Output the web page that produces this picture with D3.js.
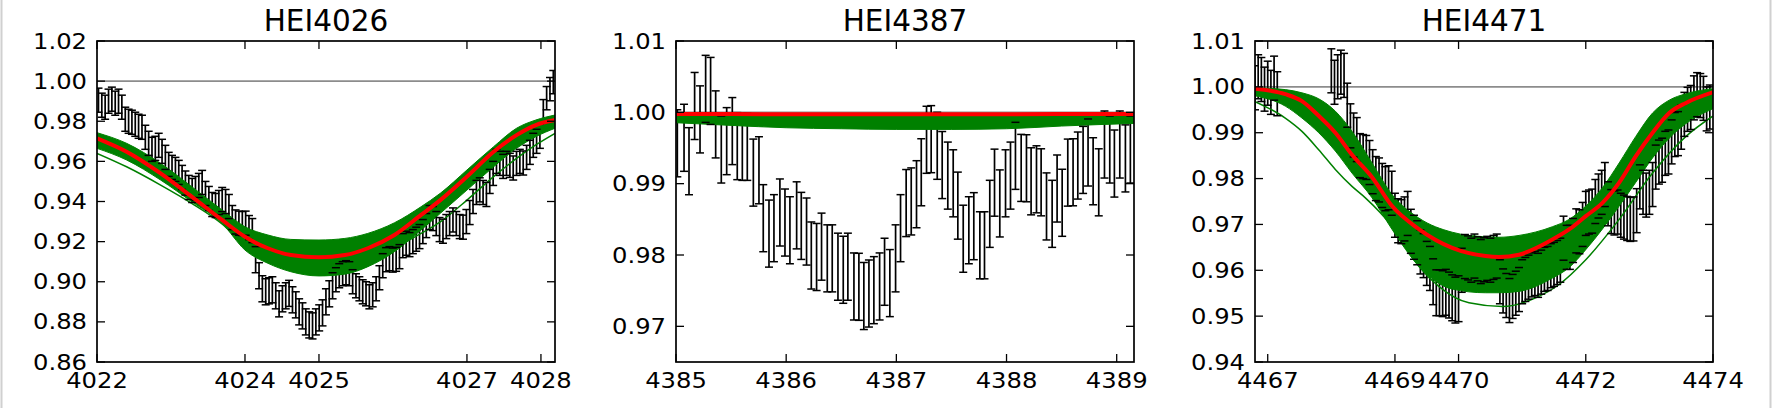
<!DOCTYPE html>
<html><head><meta charset="utf-8">
<script src="https://cdn.jsdelivr.net/npm/d3@7"></script>
<style>body{margin:0;background:#fff;overflow:hidden}svg{display:block}text{font-family:"DejaVu Sans",sans-serif;fill:#000}</style>
</head><body><svg id="chart" width="1773" height="408"></svg>
<script>
// ---------------- Panel 1: HEI4026 ----------------
const p1Wave = [
4022.020,4022.065,4022.110,4022.156,4022.201,4022.246,4022.291,4022.336,4022.382,4022.427,
4022.472,4022.517,4022.562,4022.608,4022.653,4022.698,4022.743,4022.788,4022.834,4022.879,
4022.924,4022.969,4023.014,4023.060,4023.105,4023.150,4023.195,4023.240,4023.286,4023.331,
4023.376,4023.421,4023.466,4023.512,4023.557,4023.602,4023.647,4023.692,4023.738,4023.783,
4023.828,4023.873,4023.918,4023.964,4024.009,4024.054,4024.099,4024.144,4024.190,4024.235,
4024.280,4024.325,4024.370,4024.416,4024.461,4024.506,4024.551,4024.596,4024.642,4024.687,
4024.732,4024.777,4024.822,4024.868,4024.913,4024.958,4025.003,4025.048,4025.094,4025.139,
4025.184,4025.229,4025.274,4025.320,4025.365,4025.410,4025.455,4025.500,4025.546,4025.591,
4025.636,4025.681,4025.726,4025.772,4025.817,4025.862,4025.907,4025.952,4025.998,4026.043,
4026.088,4026.133,4026.178,4026.224,4026.269,4026.314,4026.359,4026.404,4026.450,4026.495,
4026.540,4026.585,4026.630,4026.676,4026.721,4026.766,4026.811,4026.856,4026.902,4026.947,
4026.992,4027.037,4027.082,4027.128,4027.173,4027.218,4027.263,4027.308,4027.354,4027.399,
4027.444,4027.489,4027.534,4027.580,4027.625,4027.670,4027.715,4027.760,4027.806,4027.851,
4027.896,4027.941,4027.986,4028.032,4028.077,4028.122,4028.167];
const p1Flux = [
0.9905,0.9880,0.9870,0.9900,0.9910,0.9890,0.9900,0.9870,0.9810,0.9800,
0.9795,0.9785,0.9775,0.9770,0.9720,0.9690,0.9660,0.9665,0.9680,0.9650,
0.9620,0.9585,0.9570,0.9560,0.9545,0.9520,0.9492,0.9470,0.9455,0.9465,
0.9480,0.9495,0.9440,0.9415,0.9385,0.9380,0.9395,0.9410,0.9400,0.9375,
0.9320,0.9298,0.9292,0.9290,0.9292,0.9270,0.9255,0.9110,0.9030,0.8965,
0.8950,0.8955,0.8960,0.8930,0.8890,0.8915,0.8930,0.8942,0.8910,0.8885,
0.8850,0.8830,0.8800,0.8785,0.8780,0.8800,0.8820,0.8845,0.8900,0.8940,
0.8980,0.9010,0.9030,0.9040,0.9045,0.9040,0.9000,0.8980,0.8965,0.8950,
0.8940,0.8925,0.8935,0.8965,0.9020,0.9080,0.9110,0.9115,0.9108,0.9112,
0.9125,0.9180,0.9192,0.9185,0.9200,0.9212,0.9225,0.9250,0.9280,0.9320,
0.9315,0.9290,0.9260,0.9252,0.9275,0.9290,0.9308,0.9290,0.9275,0.9272,
0.9300,0.9345,0.9400,0.9445,0.9458,0.9445,0.9435,0.9500,0.9540,0.9600,
0.9590,0.9575,0.9590,0.9580,0.9567,0.9590,0.9600,0.9592,0.9620,0.9645,
0.9680,0.9700,0.9725,0.9850,0.9915,0.9960,0.9995];
const p1Err = [
0.0060,0.0060,0.0060,0.0060,0.0060,0.0060,0.0060,0.0060,0.0060,0.0060,
0.0060,0.0060,0.0060,0.0060,0.0060,0.0060,0.0060,0.0060,0.0060,0.0060,
0.0060,0.0060,0.0060,0.0060,0.0060,0.0060,0.0060,0.0060,0.0060,0.0060,
0.0060,0.0060,0.0060,0.0060,0.0060,0.0060,0.0060,0.0060,0.0060,0.0060,
0.0060,0.0060,0.0060,0.0060,0.0060,0.0060,0.0060,0.0065,0.0065,0.0065,
0.0065,0.0065,0.0065,0.0065,0.0065,0.0065,0.0065,0.0065,0.0065,0.0065,
0.0065,0.0065,0.0065,0.0065,0.0065,0.0065,0.0065,0.0065,0.0065,0.0065,
0.0065,0.0060,0.0060,0.0060,0.0060,0.0060,0.0060,0.0060,0.0060,0.0060,
0.0060,0.0060,0.0060,0.0060,0.0060,0.0060,0.0060,0.0060,0.0060,0.0060,
0.0060,0.0060,0.0060,0.0060,0.0060,0.0060,0.0060,0.0060,0.0060,0.0060,
0.0060,0.0060,0.0060,0.0060,0.0060,0.0060,0.0060,0.0060,0.0060,0.0060,
0.0060,0.0060,0.0060,0.0060,0.0060,0.0060,0.0060,0.0060,0.0060,0.0060,
0.0060,0.0060,0.0060,0.0060,0.0060,0.0060,0.0060,0.0060,0.0060,0.0060,
0.0060,0.0060,0.0060,0.0058,0.0058,0.0058,0.0058];
const p1ModelWave = [4022.00,4022.40,4022.86,4023.28,4023.69,4024.00,4024.31,4024.62,4025.00,4025.35,4025.66,4026.02,4026.38,4026.64,4027.00,4027.36,4027.67,4027.93,4028.19];
const p1Best   = [0.9715,0.9648,0.9540,0.9424,0.9308,0.9224,0.9167,0.9133,0.9122,0.9133,0.9167,0.9233,0.9333,0.9407,0.9524,0.9648,0.9731,0.9781,0.9806];
const p1BandHi = [0.9743,0.9690,0.9590,0.9474,0.9358,0.9274,0.9233,0.9211,0.9208,0.9216,0.9241,0.9294,0.9374,0.9441,0.9557,0.9673,0.9765,0.9806,0.9831];
const p1BandLo = [0.9665,0.9607,0.9507,0.9399,0.9291,0.9158,0.9092,0.9050,0.9029,0.9038,0.9075,0.9150,0.9258,0.9341,0.9457,0.9573,0.9665,0.9723,0.9765];
const p1Outlier = [0.9640,0.9573,0.9482,0.9391,0.9288,0.9180,0.9100,0.9060,0.9040,0.9050,0.9080,0.9167,0.9241,0.9299,0.9407,0.9524,0.9615,0.9682,0.9740];
const p1XTicks = [4022,4024,4025,4027,4028];
const p1YTicks = [0.86,0.88,0.90,0.92,0.94,0.96,0.98,1.00,1.02];

// ---------------- Panel 2: HEI4387 ----------------
const p2Wave = [4385.012,4385.073,4385.118,4385.169,4385.218,4385.269,4385.314,4385.360,4385.411,4385.460,4385.511,4385.556,4385.602,4385.647,4385.702,4385.753,4385.792,4385.844,4385.889,4385.943,4385.989,4386.034,4386.095,4386.137,4386.185,4386.228,4386.276,4386.321,4386.373,4386.418,4386.470,4386.518,4386.560,4386.615,4386.660,4386.705,4386.751,4386.796,4386.848,4386.893,4386.941,4386.993,4387.038,4387.089,4387.135,4387.183,4387.226,4387.274,4387.316,4387.371,4387.416,4387.467,4387.516,4387.558,4387.607,4387.658,4387.703,4387.758,4387.800,4387.848,4387.891,4387.939,4387.991,4388.036,4388.081,4388.133,4388.181,4388.223,4388.272,4388.314,4388.363,4388.414,4388.459,4388.505,4388.556,4388.604,4388.647,4388.695,4388.740,4388.786,4388.837,4388.889,4388.937,4388.979,4389.028,4389.079,4389.124];
const p2Flux = [0.99566,0.99643,0.99315,1.00089,0.99901,1.00329,1.00300,0.99831,0.99479,0.99596,0.99737,0.99526,0.99516,0.99516,0.99155,0.99188,0.98516,0.98300,0.98376,0.98596,0.98455,0.98347,0.98556,0.98408,0.98329,0.97993,0.97972,0.98117,0.97953,0.97953,0.97836,0.97793,0.97836,0.97559,0.97554,0.97425,0.97460,0.97507,0.97559,0.97765,0.97606,0.97953,0.98376,0.98728,0.98751,0.98852,0.99160,0.99615,0.99624,0.99531,0.99261,0.99113,0.99005,0.98692,0.98228,0.98347,0.98404,0.98136,0.98136,0.98577,0.99014,0.98723,0.99005,0.99113,0.99390,0.99221,0.99216,0.99033,0.99061,0.99019,0.98681,0.98577,0.98932,0.98732,0.99155,0.99160,0.99254,0.99333,0.99437,0.99174,0.99019,0.99549,0.99479,0.99282,0.99549,0.99354,0.99479];
const p2Err = [0.0047,0.0047,0.0047,0.0047,0.0047,0.0047,0.0047,0.0047,0.0047,0.0047,0.0047,0.0047,0.0047,0.0047,0.0047,0.0047,0.0047,0.0047,0.0047,0.0047,0.0047,0.0047,0.0047,0.0047,0.0047,0.0047,0.0047,0.0047,0.0047,0.0047,0.0047,0.0047,0.0047,0.0047,0.0047,0.0047,0.0047,0.0047,0.0047,0.0047,0.0047,0.0047,0.0047,0.0047,0.0047,0.0047,0.0047,0.0047,0.0047,0.0047,0.0047,0.0047,0.0047,0.0047,0.0047,0.0047,0.0047,0.0047,0.0047,0.0047,0.0047,0.0047,0.0047,0.0047,0.0047,0.0047,0.0047,0.0047,0.0047,0.0047,0.0047,0.0047,0.0047,0.0047,0.0047,0.0047,0.0047,0.0047,0.0047,0.0047,0.0047,0.0047,0.0047,0.0047,0.0047,0.0047,0.0047];
const p2ModelWave = [4385.00,4385.50,4386.00,4386.50,4387.00,4387.50,4388.00,4388.50,4389.16];
const p2Best   = [0.99978,0.99976,0.99974,0.99973,0.99973,0.99973,0.99974,0.99976,0.99978];
const p2BandHi = [0.99960,0.99958,0.99957,0.99956,0.99956,0.99956,0.99957,0.99958,0.99960];
const p2BandLo = [0.99854,0.99817,0.99784,0.99770,0.99761,0.99761,0.99770,0.99808,0.99845];
const p2XTicks = [4385,4386,4387,4388,4389];
const p2YTicks = [0.97,0.98,0.99,1.00,1.01];

// ---------------- Panel 3: HEI4471 ----------------
const p3Wave = [
4466.80,4466.85,4466.90,4466.95,4467.00,4467.05,4467.10,4467.15,
4468.00,4468.05,4468.10,4468.15,4468.20,4468.25,4468.30,4468.35,4468.40,4468.45,4468.50,4468.55,4468.60,4468.65,4468.70,4468.75,4468.80,4468.85,4468.90,4468.95,
4469.00,4469.05,4469.10,4469.15,4469.20,4469.25,4469.30,4469.35,4469.40,4469.45,4469.50,4469.55,4469.60,4469.65,4469.70,4469.75,4469.80,4469.85,4469.90,4469.95,
4470.00,4470.05,4470.10,4470.15,4470.20,4470.25,4470.30,4470.35,4470.40,4470.45,4470.50,4470.55,4470.60,4470.65,4470.70,4470.75,4470.80,4470.85,4470.90,4470.95,
4471.00,4471.05,4471.10,4471.15,4471.20,4471.25,4471.30,4471.35,4471.40,4471.45,4471.50,4471.55,4471.60,4471.65,4471.70,4471.75,4471.80,4471.85,4471.90,4471.95,
4472.00,4472.05,4472.10,4472.15,4472.20,4472.25,4472.30,4472.35,4472.40,4472.45,4472.50,4472.55,4472.60,4472.65,4472.70,4472.75,4472.80,4472.85,4472.90,4472.95,
4473.00,4473.05,4473.10,4473.15,4473.20,4473.25,4473.30,4473.35,4473.40,4473.45,4473.50,4473.55,4473.60,4473.65,4473.70,4473.75,4473.80,4473.85,4473.90,4473.95];
const p3Flux = [
0.9998,1.0022,1.0016,0.9995,1.0008,0.9988,1.0019,0.9985,
1.0035,1.0010,1.0022,1.0032,1.0025,0.9960,0.9915,0.9895,0.9885,0.9850,0.9848,0.9846,0.9835,0.9815,0.9800,0.9797,0.9785,0.9778,0.9780,0.9768,
0.9720,0.9708,0.9706,0.9712,0.9724,0.9685,0.9672,0.9660,0.9640,0.9632,0.9615,0.9604,0.9575,0.9551,0.9551,0.9549,0.9552,0.9546,0.9540,0.9535,
0.9538,0.9600,0.9630,0.9627,0.9622,0.9631,0.9625,0.9619,0.9623,0.9626,0.9622,0.9628,0.9631,0.9575,0.9555,0.9545,0.9534,0.9543,0.9550,0.9558,
0.9575,0.9580,0.9585,0.9590,0.9593,0.9589,0.9596,0.9602,0.9604,0.9610,0.9613,0.9617,0.9622,0.9670,0.9650,0.9650,0.9665,0.9686,0.9684,0.9700,
0.9724,0.9727,0.9729,0.9750,0.9762,0.9770,0.9787,0.9745,0.9728,0.9725,0.9727,0.9720,0.9716,0.9713,0.9711,0.9712,0.9730,0.9782,0.9770,0.9764,
0.9770,0.9787,0.9825,0.9836,0.9840,0.9855,0.9858,0.9880,0.9896,0.9898,0.9912,0.9940,0.9951,0.9955,0.9976,0.9983,0.9981,0.9975,0.9952,0.9956];
const p3Err = [
0.0048,0.0048,0.0048,0.0048,0.0048,0.0048,0.0048,0.0048,
0.0048,0.0048,0.0048,0.0048,0.0048,0.0048,0.0048,0.0048,0.0048,0.0048,0.0048,0.0048,0.0048,0.0048,0.0048,0.0048,0.0048,0.0048,0.0048,0.0048,
0.0048,0.0048,0.0048,0.0048,0.0048,0.0048,0.0048,0.0048,0.0048,0.0048,0.0048,0.0048,0.0050,0.0050,0.0050,0.0050,0.0050,0.0050,0.0050,0.0050,
0.0050,0.0048,0.0048,0.0048,0.0048,0.0048,0.0048,0.0048,0.0048,0.0048,0.0048,0.0048,0.0048,0.0048,0.0048,0.0048,0.0048,0.0048,0.0048,0.0048,
0.0048,0.0048,0.0048,0.0048,0.0048,0.0048,0.0048,0.0048,0.0048,0.0048,0.0048,0.0048,0.0048,0.0048,0.0048,0.0048,0.0048,0.0048,0.0048,0.0048,
0.0048,0.0048,0.0048,0.0048,0.0048,0.0048,0.0048,0.0048,0.0048,0.0048,0.0048,0.0048,0.0048,0.0048,0.0048,0.0048,0.0048,0.0048,0.0048,0.0048,
0.0048,0.0048,0.0048,0.0048,0.0048,0.0048,0.0048,0.0048,0.0048,0.0048,0.0048,0.0048,0.0048,0.0048,0.0048,0.0048,0.0048,0.0048,0.0048,0.0048];
const p3ModelWave = [4466.782,4467.276,4467.538,4467.801,4468.063,4468.325,4468.640,4468.955,4469.375,4469.900,4470.425,4470.635,4470.950,4471.475,4471.738,4472.000,4472.262,4472.525,4472.787,4473.050,4473.312,4473.575,4473.995];
const p3Best   = [0.9996,0.9984,0.9969,0.9937,0.9900,0.9852,0.9803,0.9740,0.9690,0.9649,0.9631,0.9629,0.9634,0.9667,0.9689,0.9718,0.9747,0.9791,0.9849,0.9900,0.9943,0.9965,0.9988];
const p3BandHi = [0.9998,0.9994,0.9987,0.9974,0.9947,0.9903,0.9834,0.9765,0.9714,0.9683,0.9673,0.9672,0.9676,0.9695,0.9711,0.9740,0.9780,0.9834,0.9892,0.9943,0.9971,0.9985,0.9996];
const p3BandLo = [0.9981,0.9958,0.9932,0.9900,0.9860,0.9812,0.9758,0.9689,0.9609,0.9559,0.9551,0.9551,0.9554,0.9583,0.9606,0.9645,0.9690,0.9740,0.9792,0.9845,0.9888,0.9920,0.9952];
const p3OutlierWave = [4466.782,4467.276,4467.538,4467.801,4468.063,4468.325,4468.535,4468.955,4469.375,4469.690,4470.163,4470.688,4471.213,4471.580,4472.000,4472.525,4473.050,4473.575,4473.995];
const p3Outlier = [0.9969,0.9932,0.9903,0.9863,0.9820,0.9783,0.9758,0.9696,0.9609,0.9565,0.9529,0.9521,0.9540,0.9569,0.9623,0.9711,0.9812,0.9892,0.9936];
const p3XTicks = [4467,4469,4470,4472,4474];
const p3YTicks = [0.94,0.95,0.96,0.97,0.98,0.99,1.00,1.01];

// ---------------- layout ----------------
const panels = [
  {title:"HEI4026", left:97, xDom:[4022,4028.19], yDom:[0.86,1.02],
   wave:p1Wave, flux:p1Flux, err:p1Err, mWave:p1ModelWave, best:p1Best, hi:p1BandHi, lo:p1BandLo,
   outliers:[{w:p1ModelWave, f:p1Outlier}], xTicks:p1XTicks, yTicks:p1YTicks},
  {title:"HEI4387", left:676, xDom:[4385,4389.157], yDom:[0.965,1.01],
   wave:p2Wave, flux:p2Flux, err:p2Err, mWave:p2ModelWave, best:p2Best, hi:p2BandHi, lo:p2BandLo,
   outliers:[], xTicks:p2XTicks, yTicks:p2YTicks},
  {title:"HEI4471", left:1255, xDom:[4466.8,4474], yDom:[0.94,1.01],
   wave:p3Wave, flux:p3Flux, err:p3Err, mWave:p3ModelWave, best:p3Best, hi:p3BandHi, lo:p3BandLo,
   outliers:[{w:p3OutlierWave, f:p3Outlier}], xTicks:p3XTicks, yTicks:p3YTicks}
];
const TOP = 41, PW = 458, PH = 321, TICK = 8, CAP = 4;
const TICKFS = 21, TICKSX = 1.155;
const svg = d3.select("#chart");
svg.append("line").attr("x1",1.5).attr("x2",1.5).attr("y1",0).attr("y2",408).attr("stroke","#d0d0d0").attr("stroke-width",2);
svg.append("line").attr("x1",1770.5).attr("x2",1770.5).attr("y1",0).attr("y2",408).attr("stroke","#d0d0d0").attr("stroke-width",2);

panels.forEach((p, i) => {
  const x = d3.scaleLinear().domain(p.xDom).range([0, PW]);
  const y = d3.scaleLinear().domain(p.yDom).range([PH, 0]);
  const g = svg.append("g").attr("transform", `translate(${p.left},${TOP})`);
  const clipId = "clip" + i;
  g.append("clipPath").attr("id", clipId).append("rect").attr("width", PW).attr("height", PH);
  const plot = g.append("g").attr("clip-path", `url(#${clipId})`);

  // continuum line
  plot.append("line").attr("x1",0).attr("x2",PW).attr("y1",y(1)).attr("y2",y(1))
    .attr("stroke","#8c8c8c").attr("stroke-width",1.6);

  const pts = p.wave.map((w, k) => ({w, f:p.flux[k], e:p.err[k]}));
  // error bar stems
  plot.append("g").selectAll("line").data(pts).join("line")
    .attr("x1", d => x(d.w)).attr("x2", d => x(d.w))
    .attr("y1", d => y(d.f - d.e)).attr("y2", d => y(d.f + d.e))
    .attr("stroke","#000").attr("stroke-width",1.7);

  // posterior model band
  const band = p.mWave.map((w, k) => ({w, hi:p.hi[k], lo:p.lo[k], b:p.best[k]}));
  plot.append("path").datum(band)
    .attr("d", d3.area().x(d => x(d.w)).y0(d => y(d.lo)).y1(d => y(d.hi)).curve(d3.curveMonotoneX))
    .attr("fill","#008000").attr("stroke","#008000").attr("stroke-width",1);
  p.outliers.forEach(o => {
    plot.append("path").datum(o.w.map((w,k)=>({w, f:o.f[k]})))
      .attr("d", d3.line().x(d => x(d.w)).y(d => y(d.f)).curve(d3.curveMonotoneX))
      .attr("fill","none").attr("stroke","#008000").attr("stroke-width",1.5);
  });

  // error bar caps (drawn above the band)
  const caps = plot.append("g");
  ["lo","hi"].forEach(side => {
    caps.append("g").selectAll("line").data(pts).join("line")
      .attr("x1", d => x(d.w) - CAP).attr("x2", d => x(d.w) + CAP)
      .attr("y1", d => y(side === "lo" ? d.f - d.e : d.f + d.e))
      .attr("y2", d => y(side === "lo" ? d.f - d.e : d.f + d.e))
      .attr("stroke","#000").attr("stroke-width",1.5);
  });

  // best model
  plot.append("path").datum(band)
    .attr("d", d3.line().x(d => x(d.w)).y(d => y(d.b)).curve(d3.curveMonotoneX))
    .attr("fill","none").attr("stroke","#ff0000").attr("stroke-width",4);

  // ticks (inside, all four sides)
  const tk = g.append("g").attr("stroke","#000").attr("stroke-width",1.3);
  p.xTicks.forEach(t => {
    tk.append("line").attr("x1",x(t)).attr("x2",x(t)).attr("y1",PH).attr("y2",PH-TICK);
    tk.append("line").attr("x1",x(t)).attr("x2",x(t)).attr("y1",0).attr("y2",TICK);
  });
  p.yTicks.forEach(t => {
    tk.append("line").attr("x1",0).attr("x2",TICK).attr("y1",y(t)).attr("y2",y(t));
    tk.append("line").attr("x1",PW).attr("x2",PW-TICK).attr("y1",y(t)).attr("y2",y(t));
  });
  g.append("rect").attr("width",PW).attr("height",PH).attr("fill","none")
    .attr("stroke","#000").attr("stroke-width",1.7);

  // labels
  g.selectAll("text.xl").data(p.xTicks).join("text").attr("class","xl")
    .attr("transform", d => `translate(${x(d)},${PH + 26}) scale(${TICKSX},1)`)
    .attr("text-anchor","middle").style("font-size", TICKFS + "px")
    .text(d => d3.format("d")(d));
  g.selectAll("text.yl").data(p.yTicks).join("text").attr("class","yl")
    .attr("transform", d => `translate(-10,${y(d) + 7.6}) scale(${TICKSX},1)`)
    .attr("text-anchor","end").style("font-size", TICKFS + "px")
    .text(d => d3.format(".2f")(d));
  g.append("text").attr("x", PW/2).attr("y", -10).attr("text-anchor","middle")
    .style("font-size","29.5px").text(p.title);
});
</script></body></html>
